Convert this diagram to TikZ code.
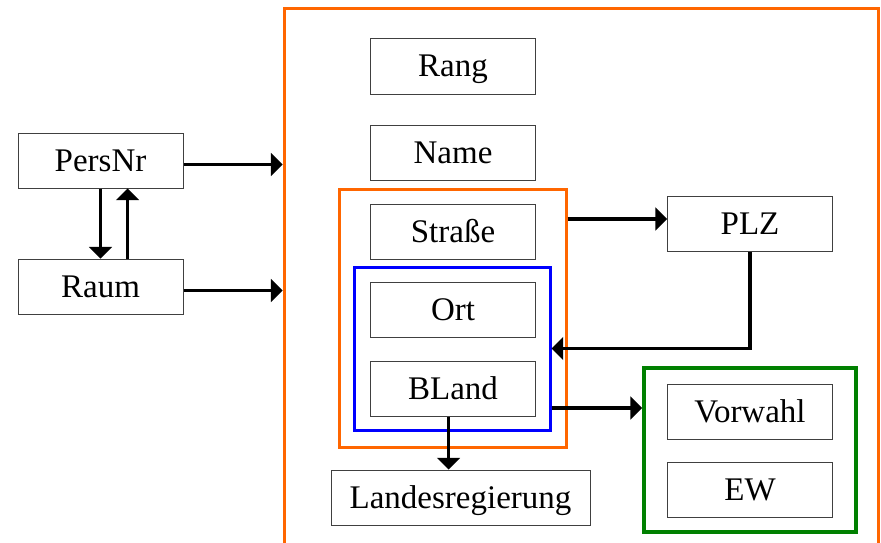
\documentclass[tikz,border=0pt]{standalone}
\usepackage{fontspec}
\setmainfont{Liberation Serif}
\usetikzlibrary{arrows}

\definecolor{grporange}{RGB}{255,102,0}
\definecolor{grpblue}{RGB}{0,0,255}
\definecolor{grpgreen}{RGB}{0,128,0}

\tikzset{
  attr/.style={draw=black!75, line width=1pt, minimum width=165pt, minimum height=55pt,
    inner sep=0pt, text height=28pt, text depth=7pt, font=\fontsize{33}{38}\selectfont},
  grp/.style={line width=3pt, inner sep=0pt},
  arr/.style={line width=3.2pt, -triangle 90}
}

\begin{document}
\begin{tikzpicture}[x=1pt, y=-1pt]
\useasboundingbox (0, 0) rectangle (881, 543);

% groups
\node[grp, draw=grporange, minimum width=594pt, minimum height=560pt] (pers) at (581, 289) {};
\node[grp, draw=grporange, minimum width=227pt, minimum height=258pt] (adr) at (452.5, 318) {};
\node[grp, draw=grpblue, minimum width=196pt, minimum height=163pt] (ortbl) at (452, 348.5) {};
\node[grp, draw=grpgreen, line width=4pt, minimum width=212pt, minimum height=164pt] (tel) at (750, 450) {};

% attributes
\node[attr] (PersNr) at (100.5, 160.5) {PersNr};
\node[attr] (Raum) at (100.5, 286.5) {Raum};
\node[attr] (Rang) at (453, 66.5) {Rang};
\node[attr] (Name) at (453, 153) {Name};
\node[attr] (Strasse) at (453, 231.5) {Straße};
\node[attr] (Ort) at (453, 310) {Ort};
\node[attr] (BLand) at (453, 388.5) {BLand};
\node[attr, minimum width=259pt] (Landes) at (460.5, 497.5) {Landesregierung};
\node[attr] (PLZ) at (750, 223.5) {PLZ};
\node[attr] (Vorwahl) at (750, 411.5) {Vorwahl};
\node[attr] (EW) at (750, 490) {EW};

% connectors
\draw[arr] ([yshift=-4pt]PersNr.east) -- ([yshift=-4pt]PersNr.east -| pers.west);
\draw[arr] ([yshift=-4pt]Raum.east) -- ([yshift=-4pt]Raum.east -| pers.west);
\draw[arr] (PersNr.south) -- (Raum.north);
\draw[arr] ([xshift=27pt]Raum.north) -- ([xshift=27pt]PersNr.south);

\coordinate (plzin) at ([yshift=4.5pt]PLZ.west);
\draw[arr] (plzin -| adr.east) -- (plzin);
\draw[arr] (PLZ.south) |- (ortbl.east);

\coordinate (blout) at ([yshift=-19.5pt]BLand.east);
\draw[arr] (blout -| ortbl.east) -- (blout -| tel.west);
\draw[arr] ([xshift=-4.5pt]BLand.south) -- ([xshift=-4.5pt]BLand.south |- Landes.north);

\end{tikzpicture}
\end{document}
